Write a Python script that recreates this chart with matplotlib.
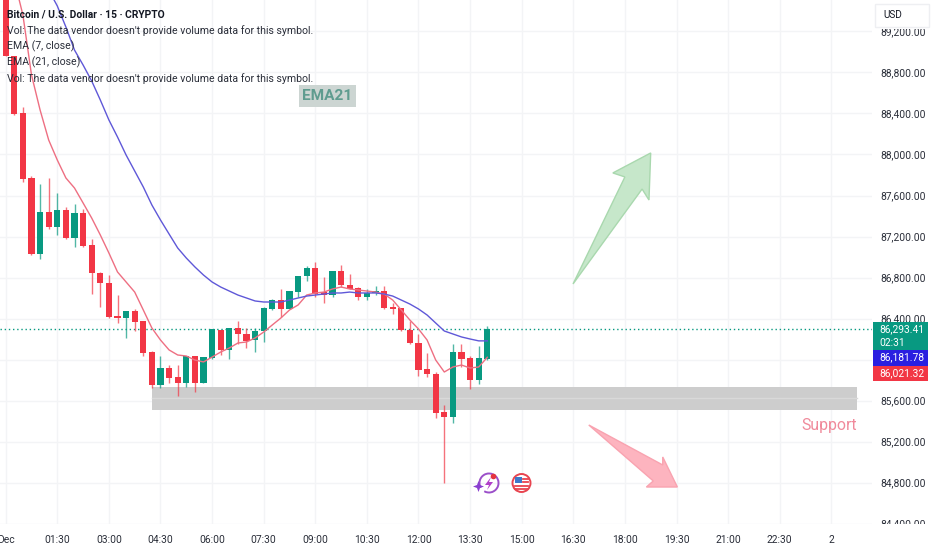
import numpy as np
import matplotlib
matplotlib.use("Agg")
import matplotlib.pyplot as plt
from matplotlib import font_manager
from matplotlib.patches import Polygon, Rectangle, Circle, Arc

names = set(f.name for f in font_manager.fontManager.ttflist)
has_narrow = 'Liberation Sans Narrow' in names
plt.rcParams['font.family'] = ['Liberation Sans Narrow' if has_narrow else 'Roboto', 'DejaVu Sans']
size_scale = 1.0 if has_narrow else 0.82

# candles, one value per 15 min bar
opens = [89800, 88965, 88405, 87771, 87029, 87439, 87293, 87458, 87185, 87429,
         87117, 86844, 86746, 86424, 86405, 86473, 86376, 86073, 85751, 85917,
         85829, 85771, 86034, 85771, 86015, 86288, 86093, 86307, 86249, 86190,
         86278, 86493, 86580, 86493, 86658, 86815, 86893, 86658, 86629, 86863,
         86727, 86698, 86610, 86649, 86668, 86502, 86502, 86288, 86161, 85907,
         85859, 85488, 85439, 86073, 86015, 85800, 86005]
highs = [89900, 88965, 88463, 87793, 87712, 87771, 87624, 87488, 87517, 87468,
         87176, 86854, 86824, 86629, 86473, 86493, 86376, 86083, 86034, 85946,
         85946, 86034, 86034, 86024, 86298, 86288, 86307, 86376, 86307, 86307,
         86512, 86590, 86688, 86668, 86815, 86912, 86951, 86805, 86863, 86922,
         86834, 86707, 86688, 86717, 86717, 86551, 86502, 86376, 86249, 86063,
         85878, 85556, 86151, 86151, 86034, 86132, 86327]
lows = [88965, 88385, 87732, 87020, 86983, 87273, 87215, 87176, 87098, 87098,
        86639, 86512, 86405, 86356, 86210, 86278, 86034, 85722, 85722, 85771,
        85644, 85732, 85683, 85771, 86005, 86044, 86005, 86151, 86112, 86073,
        86171, 86483, 86415, 86493, 86610, 86766, 86610, 86551, 86610, 86707,
        86688, 86580, 86580, 86629, 86493, 86444, 86278, 86151, 85839, 85829,
        85429, 84795, 85380, 85927, 85712, 85761, 85995]
closes = [88965, 88395, 87761, 87029, 87439, 87293, 87458, 87185, 87429, 87107,
          86844, 86746, 86415, 86405, 86473, 86366, 86063, 85751, 85917, 85820,
          85771, 86034, 85771, 86024, 86298, 86093, 86307, 86249, 86181, 86278,
          86502, 86580, 86493, 86668, 86815, 86893, 86639, 86629, 86863, 86727,
          86688, 86610, 86649, 86668, 86502, 86493, 86288, 86161, 85898, 85859,
          85478, 85439, 86073, 86005, 85800, 86015, 86293.41]

# moving averages
ema7_start = 1
ema7 = [89702, 89361, 88776, 88434, 88141, 87946, 87771, 87673, 87527, 87380,
        87215, 87039, 86854, 86756, 86658, 86483, 86307, 86190, 86093, 86044,
        86034, 85995, 85976, 86024, 86073, 86112, 86161, 86171, 86210, 86268,
        86337, 86405, 86483, 86532, 86629, 86649, 86658, 86688, 86707, 86688,
        86678, 86668, 86658, 86639, 86580, 86483, 86385, 86298, 86190, 85995,
        85878, 85927, 85946, 85917, 85927, 86021.32]
ema21_start = 5
ema21 = [89605, 89449, 89244, 89019, 88873, 88717, 88532, 88337, 88171, 87995,
         87839, 87683, 87507, 87361, 87224, 87088, 86990, 86903, 86824, 86756,
         86707, 86668, 86629, 86600, 86571, 86561, 86561, 86561, 86580, 86600,
         86619, 86629, 86639, 86649, 86649, 86658, 86649, 86649, 86649, 86639,
         86619, 86580, 86541, 86493, 86434, 86356, 86278, 86249, 86220, 86200,
         86181.78, 86181.78]

time_labels = ['Dec', '01:30', '03:00', '04:30', '06:00', '07:30', '09:00', '10:30', '12:00',
               '13:30', '15:00', '16:30', '18:00', '19:30', '21:00', '22:30', '2']
price_ticks = [84400, 84800, 85200, 85600, 86000, 86400, 86800, 87200, 87600,
               88000, 88400, 88800, 89200]
legend_lines = ["Vol: The data vendor doesn't provide volume data for this symbol.",
                "EMA (7, close)", "EMA (21, close)",
                "Vol: The data vendor doesn't provide volume data for this symbol."]

# drawings on the chart (bar index, price)
support_zone = (17, 99, 85505, 85735)
up_arrow = [(65.97, 86737), (72.0, 87781), (70.6, 87820), (75.0, 88015), (74.8, 87556), (74.0, 87663)]
down_arrow = [(67.8, 85361), (76.4, 84971), (76.4, 85049), (78.1, 84756), (74.5, 84756), (75.3, 84815)]

RED = '#f23645'
GREEN = '#089981'
W, H = 932, 550

fig = plt.figure(figsize=(W / 100, H / 100), dpi=100)
ax = fig.add_axes([0, 1 - 524 / H, 872 / W, 524 / H])
ax.set_xlim(-5.7 / 8.6, (872 - 5.7) / 8.6)
ax.set_ylim(89507.3 - 9.756 * 524, 89507.3)

# grid
tick_pos = np.arange(len(time_labels)) * 6
ax.set_xticks(tick_pos)
ax.set_xticklabels(time_labels)
ax.set_yticks(price_ticks)
# the 86,000 label sits behind the price tags
ax.set_yticklabels(['' if p == 86000 else '{:,.2f}'.format(p) for p in price_ticks])
ax.yaxis.tick_right()
ax.grid(True, color='#f3f4f6', lw=1)
ax.set_axisbelow(True)
ax.tick_params(length=0, labelsize=9.0 * size_scale, labelcolor='#2a2e39')
ax.tick_params(axis='x', pad=8)
ax.tick_params(axis='y', pad=6)
for s in ax.spines.values():
    s.set_visible(False)

# support zone sits under the candles
x0, x1, y0, y1 = support_zone
ax.add_patch(Rectangle((x0, y0), x1 - x0, y1 - y0, color='#cdcdcd', lw=0, zorder=1))
ax.plot([x0, x1], [(y0 + y1) / 2] * 2, color='#d9d9d9', lw=1, zorder=1.1)

ax.axhline(closes[-1], color=GREEN, lw=1, ls=(0, (1, 2)), zorder=1.5)

for i in range(len(opens)):
    col = GREEN if closes[i] >= opens[i] else RED
    ax.vlines(i, lows[i], highs[i], color=col, lw=1, alpha=0.7, zorder=2)
    ax.bar(i, max(abs(closes[i] - opens[i]), 15), bottom=min(opens[i], closes[i]),
           width=0.7, color=col, lw=0, zorder=3)

ax.plot(np.arange(len(ema7)) + ema7_start, ema7, color='#ee6f82', lw=1.0, zorder=4)
ax.plot(np.arange(len(ema21)) + ema21_start, ema21, color='#5f58d8', lw=1.0, zorder=4)

ax.add_patch(Polygon(up_arrow, closed=True, fc='#c6e7ca', ec='#a9d8ae', lw=1, zorder=5))
ax.add_patch(Polygon(down_arrow, closed=True, fc='#fdb4bf', ec='#f9a3b0', lw=1, zorder=5))

ax.text(37.4, 88571, 'EMA21', fontsize=13.5 * size_scale, fontweight='bold', color='#5f9c8f', ha='center', va='center',
        bbox=dict(fc='#ccd5d2', ec='none', pad=2.5), zorder=6)
ax.text(95.8, 85360, 'Support', fontsize=14 * size_scale, color='#f08a9b', ha='center', va='center', zorder=6)

# overlay in pixels for the header, price tags and icons
ov = fig.add_axes([0, 0, 1, 1], facecolor='none')
ov.set_xlim(0, W)
ov.set_ylim(H, 0)
ov.axis('off')

# the price scale is cut off by the USD button and the time axis
ov.add_patch(Rectangle((873, 524), 59, 26, color='white', lw=0))
ov.add_patch(Rectangle((873, 0), 59, 28.5, color='white', lw=0))
ov.add_patch(Rectangle((875, 4), 54, 23, fc='white', ec='#eeeff2', lw=1))
ov.text(883, 15.5, 'USD', fontsize=8.8 * size_scale, color='#131722', va='center')

ov.text(7, 15, 'Bitcoin / U.S. Dollar · 15 · CRYPTO', fontsize=9.0 * size_scale, fontweight='bold', color='#131722', va='center')
for k, line in enumerate(legend_lines):
    ov.text(7, 31 + k * 15.7, line, fontsize=9.2 * size_scale, color='#2a2e39', va='center')

tags = [(322, 28, GREEN, ['86,293.41', '02:31']), (350, 16, '#2a1fe0', ['86,181.78']), (366, 15, RED, ['86,021.32'])]
for top, h, col, txt in tags:
    ov.add_patch(Rectangle((872.5, top), 55, h, color=col, lw=0))
    for j, t in enumerate(txt):
        ov.text(879, top + 7.5 + j * 13, t, fontsize=9.0 * size_scale, color='white', va='center')

# purple lightning icon
ov.add_patch(Arc((489, 483), 19, 19, theta1=-210, theta2=120, color='#9b4fc9', lw=1.4))
ov.add_patch(Polygon([(478.5, 481), (480, 485), (484, 486.5), (480, 488), (478.5, 492),
                      (477, 488), (473, 486.5), (477, 485)], color='#8a3fd1', lw=0))
ov.add_patch(Polygon([(491, 477), (485, 485), (489, 485), (487, 490), (493, 482), (489, 482)], color='#b03fc9', lw=0))
ov.add_patch(Circle((493.5, 476.5), 2.8, color='#e5343f', lw=0))

# us flag icon
ov.add_patch(Circle((521.5, 483), 9, fc='white', ec='#e8444f', lw=1.4))
ov.add_patch(Rectangle((515, 477), 7, 6, color='#3f78c9', lw=0))
for yy in [478.5, 482]:
    ov.plot([523, 528], [yy, yy], color='#e8444f', lw=1.3)
for yy in [485.5, 488.5]:
    ov.plot([515, 528], [yy, yy], color='#e8444f', lw=1.3)

fig.savefig('out.png', dpi=100)
